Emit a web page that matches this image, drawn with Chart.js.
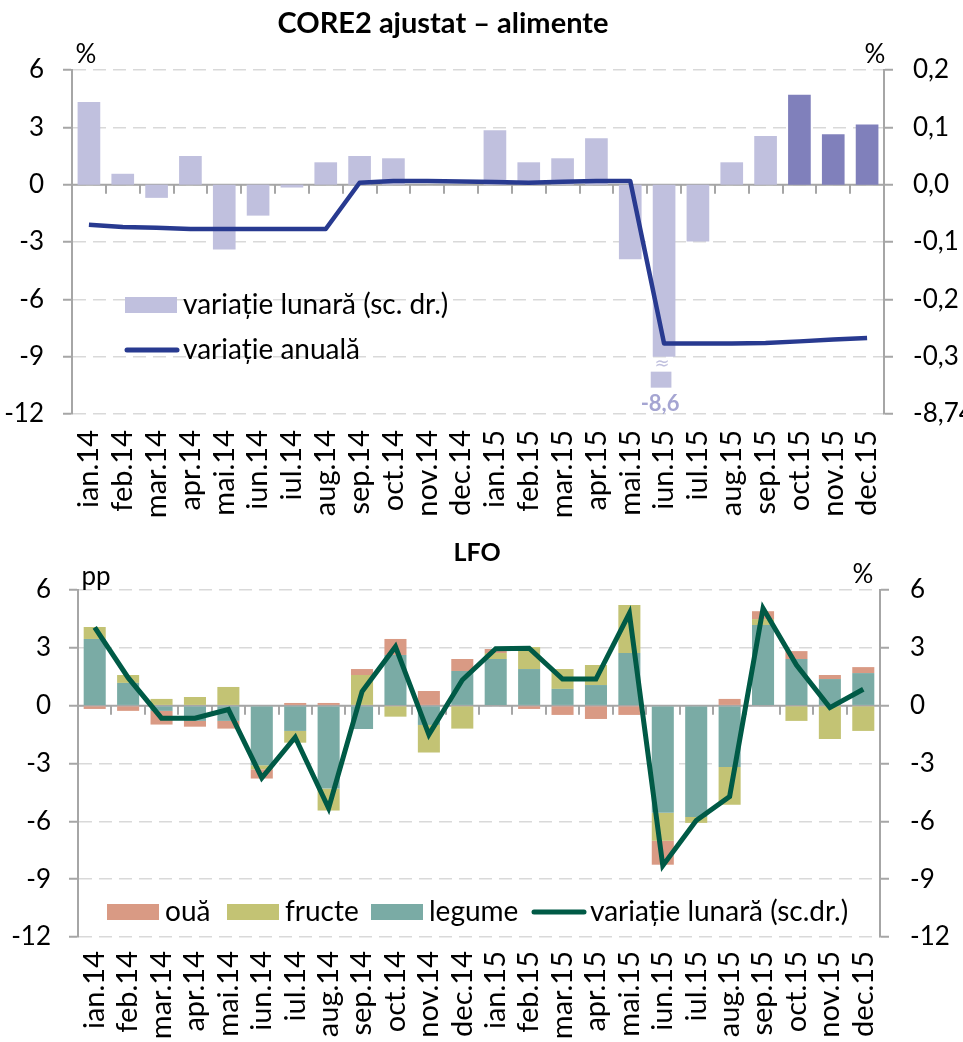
<!DOCTYPE html>
<html>
<head>
<meta charset="utf-8">
<script src="https://cdn.jsdelivr.net/npm/chart.js@4.4.1/dist/chart.umd.min.js"></script>
<style>
  body { margin: 0; background: #fff; }
  .panel { position: absolute; left: 0; }
</style>
</head>
<body>
<div class="panel" style="top:0"><canvas id="coreChart" width="963" height="530"></canvas></div>
<div class="panel" style="top:530px"><canvas id="lfoChart" width="963" height="512"></canvas></div>
<script>
// ==================== DATA ====================

const months = ['ian.14', 'feb.14', 'mar.14', 'apr.14', 'mai.14', 'iun.14', 'iul.14', 'aug.14',
    'sep.14', 'oct.14', 'nov.14', 'dec.14', 'ian.15', 'feb.15', 'mar.15', 'apr.15',
    'mai.15', 'iun.15', 'iul.15', 'aug.15', 'sep.15', 'oct.15', 'nov.15', 'dec.15'];

// CORE2 ajustat - alimente
const coreMonthly = [0.144, 0.019, -0.023, 0.05, -0.113, -0.054, -0.005, 0.039,
    0.05, 0.046, 0, 0, 0.095, 0.039, 0.046, 0.081,
    -0.13, -8.6, -0.099, 0.039, 0.085, 0.157, 0.088, 0.105];
const coreAnnual = [-2.1, -2.22, -2.25, -2.32, -2.32, -2.32, -2.32, -2.32,
    0.1, 0.19, 0.19, 0.17, 0.14, 0.1, 0.15, 0.19,
    0.19, -8.31, -8.31, -8.31, -8.29, -8.2, -8.1, -8.02];
const coreLeftTicks = [-12, 6, 3];
const coreRightTicks = [-0.4, 0.2, 0.1];
const coreBreakAt = -0.3;
const coreBreakLabel = '-8,74';
const coreDarkFrom = 'oct.15';

// LFO
const oua = [-0.17, -0.27, -0.71, -0.3, -0.4, -0.48, 0.14, 0.14,
    0.31, 0.83, 0.76, 0.62, 0.21, -0.17, -0.48, -0.69,
    -0.48, -1.24, 0, 0.35, 0.41, 0.41, 0.21, 0.31];
const fructe = [0.62, 0.41, 0.35, 0.45, 0.97, -0.21, -0.61, -1.14,
    1.59, -0.57, -1.43, -1.19, 0.31, 1.14, 1.03, 1.04,
    2.49, -1.45, -0.31, -1.96, 0.31, -0.79, -1.73, -1.31];
const legume = [3.46, 1.18, -0.27, -0.79, -0.79, -3.09, -1.31, -4.3,
    -1.21, 2.63, -1.0, 1.8, 2.42, 1.9, 0.87, 1.07,
    2.73, -5.56, -5.77, -3.18, 4.18, 2.42, 1.38, 1.69];
const lfoMonthly = [4.06, 1.45, -0.65, -0.65, -0.2, -3.75, -1.64, -5.32,
    0.73, 3.06, -1.5, 1.33, 2.95, 2.98, 1.38, 1.38,
    4.79, -8.3, -5.96, -4.71, 5.05, 2.11, -0.1, 0.85];
const lfoTicks = [-12, 6, 3];

// ==================== STYLE ====================

Chart.defaults.font.family = 'Lato, "Liberation Sans", sans-serif';
Chart.defaults.color = '#000';

const axisGray = '#a6a6a6';
const gridGray = '#d9d9d9';
const tickFont = { size: 26 };
const monthFont = { size: 29 };
const legendFont = '28px Lato';
const unitFont = '26px Lato';

function fmtComma(v) {
    if (Math.abs(v) < 1e-9) return '0,0';
    return v.toFixed(1).replace('.', ',');
}

// zero line with small tick marks between categories
const zeroAxis = {
    id: 'zeroAxis',
    beforeDatasetsDraw(chart, args, opts) {
        let ctx = chart.ctx;
        let area = chart.chartArea;
        let x = chart.scales.x;
        let y0 = chart.scales[opts.scale].getPixelForValue(0);
        ctx.save();
        ctx.strokeStyle = axisGray;
        ctx.lineWidth = 2;
        ctx.beginPath();
        ctx.moveTo(area.left, y0);
        ctx.lineTo(area.right, y0);
        for (let i = 1; i < chart.data.labels.length; i++) {
            let bx = Math.round((x.getPixelForValue(i - 1) + x.getPixelForValue(i)) / 2);
            ctx.moveTo(bx, y0);
            ctx.lineTo(bx, y0 + 9);
        }
        ctx.stroke();
        ctx.restore();
    }
};

function drawText(ctx, text, x, y, font, align, color) {
    ctx.font = font;
    ctx.textAlign = align || 'left';
    ctx.textBaseline = 'middle';
    ctx.fillStyle = color || '#000';
    ctx.fillText(text, x, y);
}

function legendBox(ctx, x, y, color, label) {
    ctx.fillStyle = color;
    ctx.fillRect(x, y - 8, 52, 16);
    drawText(ctx, label, x + 58, y, legendFont);
}

function legendLine(ctx, x, y, color, label, width) {
    ctx.save();
    ctx.strokeStyle = color;
    ctx.lineWidth = width;
    ctx.lineCap = 'round';
    ctx.beginPath();
    ctx.moveTo(x + 2, y);
    ctx.lineTo(x + 52, y);
    ctx.stroke();
    ctx.restore();
    drawText(ctx, label, x + 58, y, legendFont);
}

function yAxis(position, ticks, width, pad, labelFn, onArea) {
    return {
        position: position,
        min: ticks[0],
        max: ticks[1],
        ticks: { stepSize: ticks[2], padding: pad, font: tickFont, callback: labelFn },
        grid: { drawOnChartArea: onArea, color: gridGray, lineWidth: 1.5, tickLength: 9, tickColor: axisGray, tickWidth: 2 },
        border: { color: axisGray, width: 2, dash: [13, 7] },
        afterFit: s => { s.width = width; }
    };
}

function xAxis(height, pad) {
    return {
        grid: { display: false, drawTicks: false },
        border: { display: false },
        ticks: { minRotation: 90, maxRotation: 90, autoSkip: false, padding: pad, font: monthFont },
        afterFit: s => { s.height = height; }
    };
}

// ==================== CORE2 ajustat - alimente ====================

const coreLight = '#c0c0de';
const coreDark = '#8080bb';
const coreLine = '#283a90';
const darkIdx = months.indexOf(coreDarkFrom);

new Chart(document.getElementById('coreChart'), {
    data: {
        labels: months,
        datasets: [{
            type: 'bar',
            label: 'variație lunară (sc. dr.)',
            data: coreMonthly.map(v => Math.max(v, coreBreakAt)),
            backgroundColor: months.map((m, i) => i >= darkIdx ? coreDark : coreLight),
            yAxisID: 'y2',
            barPercentage: 0.67,
            categoryPercentage: 1,
            order: 1
        }, {
            type: 'line',
            label: 'variație anuală',
            data: coreAnnual,
            borderColor: coreLine,
            borderWidth: 4.5,
            pointRadius: 0,
            borderJoinStyle: 'round',
            yAxisID: 'y',
            order: 0
        }]
    },
    options: {
        responsive: false,
        animation: false,
        layout: { padding: { top: 70 } },
        plugins: { legend: { display: false }, tooltip: { enabled: false }, zeroAxis: { scale: 'y' } },
        scales: {
            x: xAxis(116, 16),
            y: yAxis('left', coreLeftTicks, 72, 19, v => v, true),
            y2: yAxis('right', coreRightTicks, 79, 20,
                v => v <= coreRightTicks[0] + 1e-9 ? coreBreakLabel : fmtComma(v), false)
        }
    },
    plugins: [zeroAxis, {
        id: 'coreText',
        afterDatasetsDraw(chart) {
            let ctx = chart.ctx;
            let bars = chart.getDatasetMeta(0).data;
            let y2 = chart.scales.y2;
            let yb = y2.getPixelForValue(coreBreakAt);
            coreMonthly.forEach((v, i) => {
                if (v >= coreBreakAt) return;
                let el = bars[i];
                ctx.fillStyle = coreLight;
                ctx.fillRect(el.x - el.width / 2 - 2, yb + 15, el.width - 2, 16);
                drawText(ctx, '≈', el.x - 2, yb + 8, '18px "DejaVu Sans"', 'center', coreLight);
                drawText(ctx, fmtComma(v), el.x - 4, yb + 47, 'bold 22px Lato', 'center', '#a5a5d2');
            });
        },
        afterDraw(chart) {
            let ctx = chart.ctx;
            let ds = chart.data.datasets;
            drawText(ctx, 'CORE2 ajustat – alimente', 443, 24, 'bold 29px Lato', 'center');
            drawText(ctx, '%', 86, 55, unitFont, 'center');
            drawText(ctx, '%', 875, 55, unitFont, 'center');
            legendBox(ctx, 125, 305, coreLight, ds[0].label);
            legendLine(ctx, 125, 350, coreLine, ds[1].label, 5);
        }
    }]
});

// ==================== LFO ====================

const colOua = '#d99a84';
const colFructe = '#c3c374';
const colLegume = '#7aaba5';
const colLine = '#005a46';

function stackBar(label, data, color) {
    return {
        type: 'bar', label: label, data: data, backgroundColor: color,
        stack: 'lfo', yAxisID: 'y', barPercentage: 0.66, categoryPercentage: 1, order: 1
    };
}

new Chart(document.getElementById('lfoChart'), {
    data: {
        labels: months,
        datasets: [
            stackBar('legume', legume, colLegume),
            stackBar('fructe', fructe, colFructe),
            stackBar('ouă', oua, colOua),
            {
                type: 'line',
                label: 'variație lunară (sc.dr.)',
                data: lfoMonthly,
                borderColor: colLine,
                borderWidth: 5,
                pointRadius: 0,
                yAxisID: 'y2',
                order: 0
            }
        ]
    },
    options: {
        responsive: false,
        animation: false,
        layout: { padding: { top: 60 } },
        plugins: { legend: { display: false }, tooltip: { enabled: false }, zeroAxis: { scale: 'y' } },
        scales: {
            x: Object.assign(xAxis(105, 14), { stacked: true }),
            y: Object.assign(yAxis('left', lfoTicks, 78, 18, v => v, true), { stacked: true }),
            y2: yAxis('right', lfoTicks, 83, 21, v => v, false)
        }
    },
    plugins: [zeroAxis, {
        id: 'lfoText',
        afterDraw(chart) {
            let ctx = chart.ctx;
            let ds = chart.data.datasets;
            drawText(ctx, 'LFO', 477, 23, 'bold 25px Lato', 'center');
            drawText(ctx, 'pp', 96, 47, unitFont, 'center');
            drawText(ctx, '%', 863, 45, unitFont, 'center');
            let ly = 382;
            legendBox(ctx, 107, ly, colOua, ds[2].label);
            legendBox(ctx, 227, ly, colFructe, ds[1].label);
            legendBox(ctx, 371, ly, colLegume, ds[0].label);
            legendLine(ctx, 532, ly, colLine, ds[3].label, 5);
        }
    }]
});
</script>
</body>
</html>
